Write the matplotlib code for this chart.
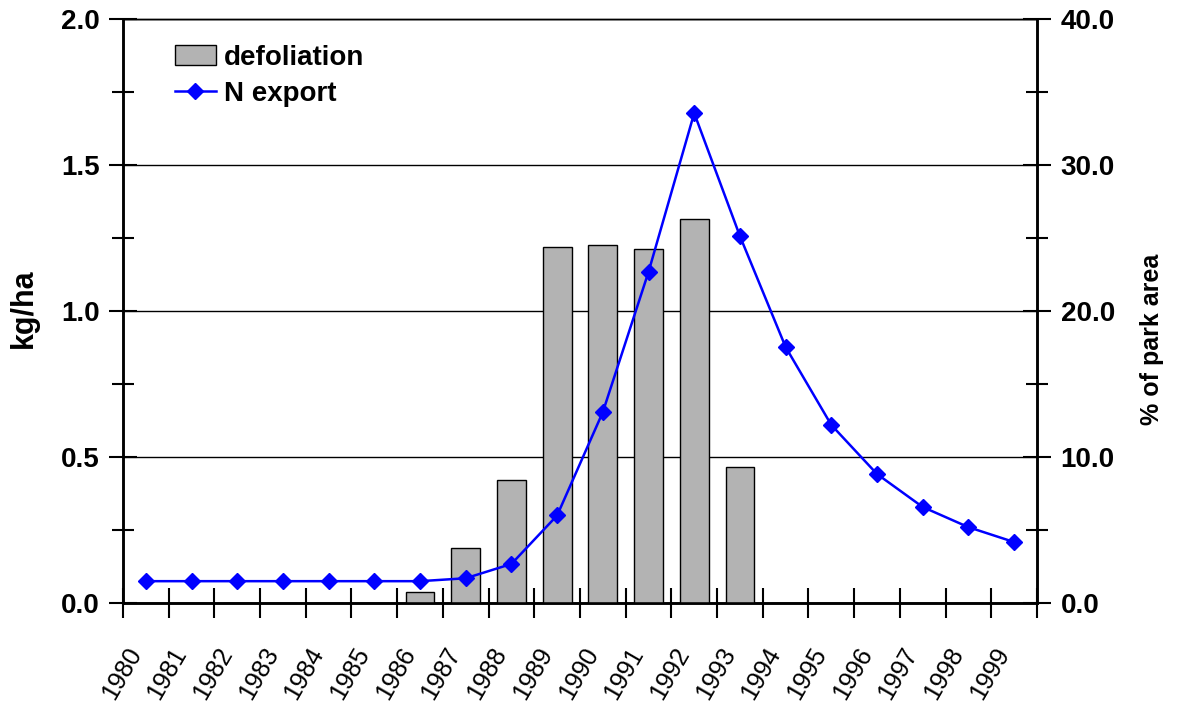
import matplotlib
matplotlib.use('Agg')
import matplotlib.pyplot as plt
import numpy as np
from matplotlib.ticker import MultipleLocator, FormatStrFormatter

plt.rcParams['font.family'] = ['Liberation Sans', 'DejaVu Sans']

# data
years = ['1980', '1981', '1982', '1983', '1984', '1985', '1986', '1987', '1988', '1989',
         '1990', '1991', '1992', '1993', '1994', '1995', '1996', '1997', '1998', '1999']
defoliation = [0, 0, 0, 0, 0, 0, 0.75, 3.75, 8.45, 24.4,
               24.5, 24.25, 26.3, 9.3, 0, 0, 0, 0, 0, 0]          # % of park area
n_export = [0.075, 0.075, 0.075, 0.075, 0.075, 0.075, 0.075, 0.085, 0.134, 0.30,
            0.654, 1.134, 1.678, 1.257, 0.877, 0.61, 0.442, 0.329, 0.26, 0.209]  # kg/ha

x = np.arange(len(years))
fs = 20

fig = plt.figure(figsize=(11.77, 7.07), dpi=100)
ax = fig.add_axes([0.1045, 0.147, 0.7765, 0.826])
ax2 = ax.twinx()

# bars + grid on the right axis (drawn below), line on the left axis (drawn on top)
ax.set_zorder(ax2.get_zorder() + 1)
ax.patch.set_visible(False)

bars = ax2.bar(x, defoliation, width=0.63, color='#b3b3b3', edgecolor='black',
               linewidth=1.0, zorder=3, label='defoliation')
line, = ax.plot(x, n_export, color='blue', lw=1.8, marker='D', ms=8,
                label='N export', zorder=4)

ax.set_xlim(-0.5, len(years) - 0.5)
ax.set_ylim(0, 2.0)
ax2.set_ylim(0, 40.0)

# y axes
ax.yaxis.set_major_locator(MultipleLocator(0.5))
ax.yaxis.set_minor_locator(MultipleLocator(0.25))
ax.yaxis.set_major_formatter(FormatStrFormatter('%.1f'))
ax2.yaxis.set_major_locator(MultipleLocator(10))
ax2.yaxis.set_minor_locator(MultipleLocator(5))
ax2.yaxis.set_major_formatter(FormatStrFormatter('%.1f'))

ax.tick_params(axis='y', which='major', direction='inout', length=20, width=1.5,
               labelsize=fs, pad=7)
ax.tick_params(axis='y', which='minor', direction='inout', length=16, width=1.5)
ax2.tick_params(axis='y', which='major', direction='inout', length=20, width=1.5,
                labelsize=fs, pad=7)
ax2.tick_params(axis='y', which='minor', direction='inout', length=16, width=1.5)
for lab in ax.get_yticklabels() + ax2.get_yticklabels():
    lab.set_fontweight('bold')

ax2.grid(axis='y', which='major', color='black', lw=1.0)
ax2.set_axisbelow(True)

# x axis: ticks at category boundaries, labels at centres
ax.set_xticks(np.arange(-0.5, len(years), 1.0))
ax.set_xticklabels([])
ax.tick_params(axis='x', which='major', direction='inout', length=21, width=1.5)
ax.set_xticks(x, minor=True)
ax.set_xticklabels(years, minor=True, rotation=60, ha='right', va='top', fontsize=18)
ax.tick_params(axis='x', which='minor', length=0, pad=29)
ax2.tick_params(axis='x', which='both', length=0)

for a in (ax, ax2):
    for s in ('left', 'right', 'bottom'):
        a.spines[s].set_linewidth(1.8)
    a.spines['top'].set_linewidth(1.0)

ax.set_ylabel('kg/ha', fontsize=22, fontweight='bold')
ax.yaxis.set_label_coords(-0.092, 0.505)
ax2.set_ylabel('% of park area', fontsize=18, fontweight='bold')
ax2.yaxis.set_label_coords(1.113, 0.452)

ax.legend([bars, line], ['defoliation', 'N export'], loc='upper left',
          bbox_to_anchor=(0.045, 0.975), frameon=False, borderaxespad=0,
          handlelength=1.45, handletextpad=0.3, labelspacing=0.35,
          prop={'size': fs, 'weight': 'bold'})

fig.savefig('out.png', dpi=100)
plt.close()
